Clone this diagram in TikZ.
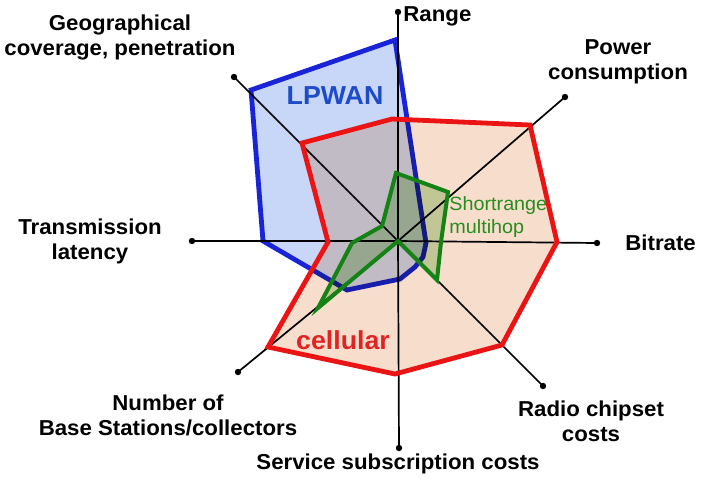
\documentclass[tikz,border=0pt]{standalone}
\usepackage{fontspec}
\setmainfont{Liberation Sans}[FakeStretch=1.03]
\usetikzlibrary{calc}

\definecolor{lpwanblue}{RGB}{25,35,215}
\definecolor{lpwanfill}{RGB}{200,215,248}
\definecolor{lpwantext}{RGB}{30,75,200}
\definecolor{cellred}{RGB}{235,20,20}
\definecolor{cellfill}{RGB}{247,222,204}
\definecolor{celltext}{RGB}{225,35,35}
\definecolor{multigreen}{RGB}{20,130,20}
\definecolor{multifill}{RGB}{200,228,185}
\definecolor{multitext}{RGB}{40,140,30}

\begin{document}
\begin{tikzpicture}[x=0.5pt,y=-0.5pt,
  axis/.style={line width=0.85pt},
  lbl/.style={font=\fontsize{10.8}{12.5}\selectfont\bfseries, align=center, inner sep=0pt}]
\useasboundingbox (0,0) rectangle (702,478);
% axis ends
\coordinate (c) at (398,241);
\coordinate (range) at (398,12);
\coordinate (power) at (565,97);
\coordinate (bitrate) at (597,243);
\coordinate (radio) at (543,386);
\coordinate (service) at (399,448);
\coordinate (number) at (238,372);
\coordinate (trans) at (192,241);
\coordinate (geo) at (234,77);
% LPWAN
\draw[lpwanblue, fill=lpwanfill, line width=2.4pt] (251,90) -- (395,40) -- (426,243) -- (423,257) -- (415,267) -- (400,279) -- (347,290) -- (263,241) -- cycle;
% cellular
\begin{scope}[blend mode=multiply]
\fill[cellfill] (302,143) -- (392,119) -- (530,125) -- (557,242) -- (502,345) -- (395,374) -- (268,347) -- (328,242) -- cycle;
\end{scope}
\foreach \e in {range,power,bitrate,radio,service,number,trans,geo}{
  \draw[axis] (c) -- (\e);
  \fill (\e) circle (1.6pt);
}
\draw[cellred, line width=2.4pt] (302,143) -- (392,119) -- (530,125) -- (557,242) -- (502,345) -- (395,374) -- (268,347) -- (328,242) -- cycle;
% shortrange multihop
\begin{scope}[blend mode=multiply]
\fill[multifill] (396,173) -- (448,192) -- (441,242) -- (437,280) -- (398,241) -- (318,308) -- (352,243) -- (382,226) -- cycle;
\end{scope}
\draw[multigreen, line width=2pt] (396,173) -- (448,192) -- (441,242) -- (437,280) -- (398,241) -- (318,308) -- (352,243) -- (382,226) -- cycle;
% labels
\node[lbl, anchor=west] (lrange) at (403,16) {Range};
\node[lbl] (lgeo) at (120,37) {Geographical\\coverage, penetration};
\node[lbl] (lpower) at (618,62) {Power\\consumption};
\node[lbl, anchor=west] (lbitrate) at (625,243) {Bitrate};
\node[lbl] (ltrans) at (90,241) {Transmission\\latency};
\node[lbl] (lnumber) at (168,415) {Number of\\Base Stations/collectors};
\node[lbl] (lradio) at (591,421) {Radio chipset\\costs};
\node[lbl] (lservice) at (398,464) {Service subscription costs};
\node[lbl, font=\fontsize{13}{15}\selectfont\bfseries, text=lpwantext] (llpwan) at (335,96) {LPWAN};
\node[lbl, font=\fontsize{13}{15}\selectfont\bfseries, text=celltext] (lcell) at (343,340) {cellular};
\node[lbl, align=left, anchor=west, font=\fontsize{9.6}{11.5}\selectfont, text=multitext] (lmulti) at (449,217) {Shortrange\\multihop};
\end{tikzpicture}
\end{document}
